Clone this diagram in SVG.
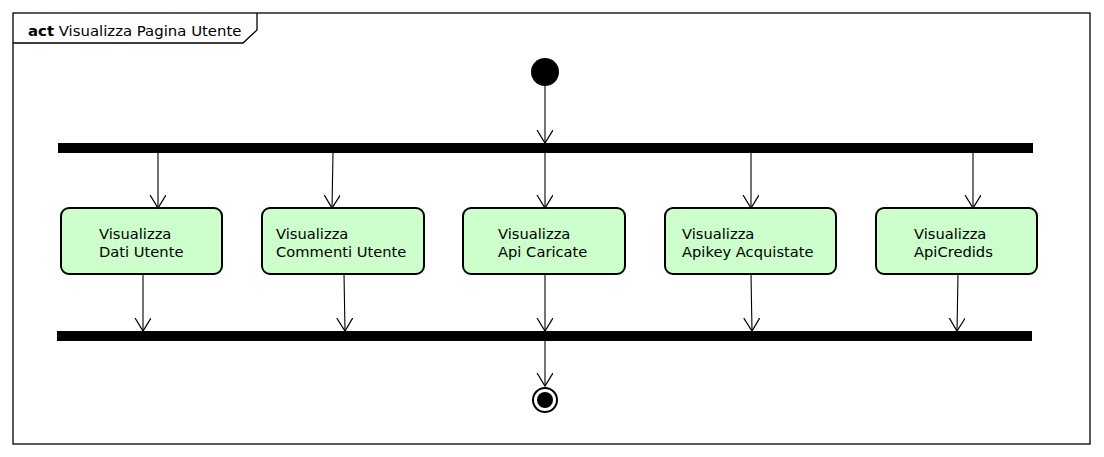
<svg xmlns="http://www.w3.org/2000/svg" width="1104" height="457" viewBox="0 0 1104 457">
<defs>
<marker id="arr" markerWidth="16" markerHeight="18" refX="13" refY="8" orient="auto" markerUnits="userSpaceOnUse">
<path d="M0,0 L13,8 L0,16" fill="none" stroke="#000" stroke-width="1.2"/>
</marker>
<style>
.frame{fill:none;stroke:#000;stroke-width:1.3}
.node{fill:#CCFFCC;stroke:#000;stroke-width:2}
.bar{fill:#000}
.lbl{font-family:"DejaVu Sans","Liberation Sans",sans-serif;font-size:14.7px;fill:#000}
.edge{fill:none;stroke:#000;stroke-width:1.1;marker-end:url(#arr)}
</style>
</defs>
<rect width="1104" height="457" fill="#fff"/>
<g id="frame">
<rect class="frame" x="13" y="13" width="1077" height="431"/>
<path class="frame" d="M13,43 L243,43 L257,30 L257,13"/>
<text x="28" y="36" font-family="'DejaVu Sans','Liberation Sans',sans-serif" font-size="14.9"><tspan font-weight="bold">act</tspan> Visualizza Pagina Utente</text>
</g>
<g id="start"><circle cx="545" cy="72" r="14" fill="#000"/></g>
<g id="fork"><rect class="bar" x="58" y="143" width="975" height="10"/></g>
<g id="join"><rect class="bar" x="57" y="331" width="975" height="10"/></g>
<g id="end"><circle cx="545" cy="400" r="12" fill="#fff" stroke="#000" stroke-width="2"/><circle cx="545" cy="400" r="8" fill="#000"/></g>
<g id="n1"><rect class="node" x="61" y="208" width="161" height="66" rx="8"/><text class="lbl" x="99" y="239">Visualizza</text><text class="lbl" x="99" y="257">Dati Utente</text></g>
<g id="n2"><rect class="node" x="262" y="208" width="162" height="66" rx="8"/><text class="lbl" x="276" y="239">Visualizza</text><text class="lbl" x="276" y="257">Commenti Utente</text></g>
<g id="n3"><rect class="node" x="463" y="208" width="162" height="66" rx="8"/><text class="lbl" x="498" y="239">Visualizza</text><text class="lbl" x="498" y="257">Api Caricate</text></g>
<g id="n4"><rect class="node" x="665" y="208" width="171" height="66" rx="8"/><text class="lbl" x="682" y="239">Visualizza</text><text class="lbl" x="682" y="257">Apikey Acquistate</text></g>
<g id="n5"><rect class="node" x="876" y="208" width="161" height="66" rx="8"/><text class="lbl" x="914" y="239">Visualizza</text><text class="lbl" x="914" y="257">ApiCredids</text></g>
<g id="connectors">
<path class="edge" d="M545,86 L545,143"/>
<path class="edge" d="M158,153 L158,208"/>
<path class="edge" d="M333,153 L332,208"/>
<path class="edge" d="M545,153 L545,208"/>
<path class="edge" d="M751,153 L751,208"/>
<path class="edge" d="M973,153 L973,208"/>
<path class="edge" d="M143,274 L143,331"/>
<path class="edge" d="M344,274 L345,331"/>
<path class="edge" d="M545,274 L545,331"/>
<path class="edge" d="M751,274 L752,331"/>
<path class="edge" d="M958,274 L957,331"/>
<path class="edge" d="M545,341 L545,386"/>
</g>
</svg>
